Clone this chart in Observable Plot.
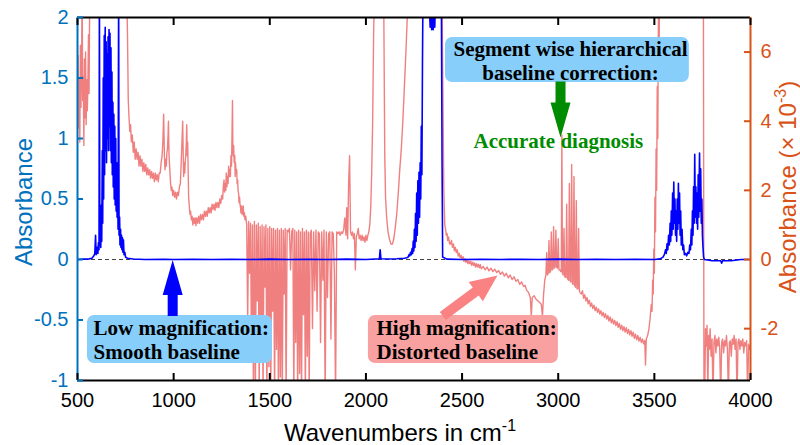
<!DOCTYPE html>
<html><head><meta charset="utf-8">
<script src="https://cdn.jsdelivr.net/npm/d3@7"></script>
<script src="https://cdn.jsdelivr.net/npm/@observablehq/plot@0.6"></script>
<style>body{margin:0;background:#fff} svg{display:block}</style>
</head><body><div id="chart"></div>
<script>
// ---------- data ----------
const RATIO = 3.5; // right-axis units (x10^-3) per left-axis unit
const xTicks = [500, 1000, 1500, 2000, 2500, 3000, 3500, 4000];
const leftTicks = [-1, -0.5, 0, 0.5, 1, 1.5, 2];
const rightTicks = [-2, 0, 2, 4, 6];
const zeroLine = [0];

// low magnification spectrum: [wavenumber, absorbance]
const lowMag = [
[500,0],[530,0.003],[560,0.005],[575,0.01],[585,0.03],[590,0.05],[594,0.2],[597,0.04],[600,0.06],[603,0.1],[606,0.05],[609,0.14],[612,0.08],[614,2.3],[616,0.12],[619,0.3],[621,0.1],[624,0.45],[626,0.15],[629,0.9],[631,0.3],[634,1.5],[636,0.5],[639,1.85],[641,0.7],[644,1.92],[646,0.9],[649,1.8],[651,0.8],[654,1.7],[656,1.0],[659,1.84],[661,0.9],[664,1.9],[666,1.1],[669,1.87],[671,0.9],[674,1.75],[676,0.8],[679,1.55],[681,0.7],[684,1.3],[686,0.6],[689,1.2],[691,0.5],[694,1.1],[696,0.45],[699,1.0],[701,0.4],[704,0.8],[706,0.35],[709,0.6],[711,0.25],[714,2.3],[716,0.2],[719,0.35],[721,0.12],[724,0.25],[726,0.1],[729,0.2],[731,0.08],[734,0.18],[736,0.06],[739,0.16],[742,0.04],[746,0.06],[750,0.02],[760,0.01],[790,0.004],[850,0],[950,0.002],[1000,0],[1100,0.002],[1200,0],[1300,0.002],[1400,0],[1500,0.003],[1600,0],[1700,0.002],[1800,0],[1900,0.003],[2000,0],[2050,0.004],[2070,0.005],[2074,0.08],[2078,0.006],[2120,0.004],[2160,0.006],[2200,0.01],[2212,0.015],[2220,0.02],[2224,0.04],[2228,0.03],[2232,0.06],[2236,0.04],[2240,0.09],[2243,0.05],[2246,0.15],[2249,0.07],[2252,0.25],[2255,0.1],[2258,0.38],[2261,0.15],[2264,0.55],[2267,0.2],[2270,0.65],[2273,0.3],[2276,0.72],[2279,0.35],[2282,0.8],[2285,0.5],[2288,1.1],[2291,0.7],[2294,1.6],[2297,2.3],[2320,2.3],[2330,2.1],[2334,1.92],[2338,2.05],[2342,1.9],[2346,2.1],[2350,1.9],[2354,2.05],[2358,1.92],[2362,2.2],[2370,2.3],[2392,2.3],[2396,0.8],[2399,0.02],[2420,0.003],[2500,0],[2600,0.002],[2700,0],[2800,0.002],[2900,0],[3000,0.003],[3100,0],[3200,0.002],[3300,0],[3400,0.002],[3500,0],[3530,0.005],
[3545,0.02],[3552,0.04],[3558,0.08],[3562,0.05],[3566,0.13],[3570,0.08],[3574,0.2],[3578,0.12],[3582,0.3],[3585,0.15],[3588,0.4],[3591,0.2],[3595,0.55],[3598,0.25],[3601,0.64],[3604,0.3],[3607,0.5],[3610,0.2],[3613,0.4],[3616,0.15],[3619,0.5],[3622,0.25],[3625,0.63],[3628,0.3],[3631,0.55],[3634,0.2],[3637,0.4],[3640,0.12],[3644,0.25],[3648,0.08],[3652,0.12],[3656,0.04],[3662,0.05],[3668,0.03],[3674,0.06],[3680,0.05],[3684,0.12],[3688,0.08],[3692,0.25],[3695,0.12],[3698,0.4],[3701,0.2],[3704,0.6],[3707,0.3],[3710,0.87],[3713,0.35],[3716,0.6],[3719,0.3],[3722,0.55],[3725,0.25],[3728,0.7],[3731,0.35],[3735,0.88],[3738,0.4],[3741,0.75],[3744,0.3],[3747,0.5],[3750,0.2],[3753,0.1],[3756,0.02],[3760,0],[3800,-0.01],[3845,-0.01],[3850,-0.03],[3855,-0.01],[3900,-0.01],[3950,0],[4000,0]
];

// high magnification spectrum: [wavenumber, absorbance x 10^-3]
const highMag = [
[500,4.8],[503,5.9],[506,3.8],[509,5.2],[512,3.4],[515,6.2],[518,4.4],[521,5.5],[524,8],[527,4.6],[530,5.3],[533,3.3],[536,5.8],[539,4.1],[542,6.0],[545,3.9],[548,5.2],[551,4.3],[554,5.0],[557,6.5],[560,4.8],[564,8],[755,8],
[760,6.5],[764,4.6],[768,4.1],[772,3.7],[776,3.9],[780,3.4],[785,3.6],[790,3.1],[795,3.4],[800,2.9],[805,3.2],[810,2.9],[815,3.1],[820,2.7],[825,3.0],[830,2.7],[835,2.9],[840,2.55],[845,2.8],[850,2.55],[855,2.75],[860,2.45],[865,2.65],[870,2.45],[875,2.6],[880,2.35],[885,2.55],[890,2.35],[895,2.5],[900,2.25],[905,2.5],[910,2.3],[915,2.45],[920,2.25],[925,2.5],[930,2.5],[935,2.8],[940,3.0],[944,3.4],[948,4.2],[952,3.0],[955,2.6],[958,2.9],[962,2.7],[965,3.1],[968,3.2],[971,3.6],[973,4.0],[976,3.0],[980,2.6],[984,2.2],[988,2.0],[991,2.1],[995,1.85],[1000,2.0],[1005,1.8],[1010,1.95],[1015,1.75],[1020,1.95],[1025,1.85],[1030,2.1],[1035,2.2],[1038,2.6],[1042,3.2],[1047,4.0],[1050,3.0],[1052,2.4],[1055,2.8],[1058,2.5],[1061,2.9],[1063,3.0],[1066,3.4],[1068,3.9],[1071,3.0],[1073,3.4],[1076,2.4],[1078,1.8],[1082,1.5],[1085,1.3],[1088,1.4],[1092,1.15],[1096,1.25],[1100,1.0],[1104,1.2],[1108,1.05],[1112,1.2],[1116,0.98],[1120,1.2],[1125,1.05],[1130,1.25],[1135,1.05],[1140,1.3],[1145,1.15],[1150,1.3],[1155,1.15],[1160,1.4],[1165,1.25],[1170,1.4],[1175,1.25],[1180,1.5],[1185,1.35],[1190,1.5],[1195,1.35],[1200,1.6],[1205,1.45],[1210,1.6],[1215,1.42],[1220,1.65],[1225,1.5],[1230,1.65],[1235,1.5],[1240,1.75],[1245,1.62],[1250,1.85],[1255,1.75],[1258,2.1],[1262,2.3],[1265,1.95],[1268,2.2],[1271,2.0],[1274,2.5],[1277,2.1],[1280,2.4],[1283,2.2],[1286,2.7],[1289,2.4],[1292,2.6],[1295,2.4],[1298,3.0],[1301,2.7],[1303,3.4],[1306,4.6],[1308,3.2],[1310,3.0],[1312,3.3],[1315,2.8],[1318,3.0],[1320,2.4],[1322,2.8],[1325,2.5],[1328,2.6],[1330,2.2],[1333,2.3],[1335,2.0],[1338,1.9],[1340,1.65],[1343,1.8],[1345,1.6],[1348,1.5],[1350,1.35],[1353,1.55],[1356,1.3],[1359,1.45],[1362,1.55],[1365,1.25],[1368,1.35],[1371,1.15],
[1375,1.25],[1380,1.0],[1385,-1.8],[1390,1.1],[1395,-0.4],[1400,1.05],[1405,-2.9],[1410,1.0],[1415,-4],[1420,1.1],[1425,-4],[1430,1.0],[1435,-1.2],[1440,1.05],[1445,-4],[1450,0.95],[1455,-2.2],[1460,1.0],[1465,-4],[1470,0.95],[1475,-0.8],[1480,1.0],[1485,-4],[1490,0.9],[1495,-3.1],[1500,0.95],[1505,-4],[1510,0.9],[1515,-1.5],[1520,0.9],[1525,-4],[1530,0.85],[1535,-2.6],[1540,0.9],[1545,-4],[1550,0.85],[1555,-3.4],[1560,0.9],[1565,-4],[1570,0.85],[1575,-1.0],[1580,0.9],[1585,-4],[1590,0.85],[1596,0.8],[1602,0.9],[1608,-0.3],[1614,0.8],
[1620,0.9],[1625,-4],[1630,0.85],[1635,-2.4],[1640,0.8],[1645,-4],[1650,0.85],[1655,-3.3],[1660,0.8],[1665,-4],[1670,0.9],[1675,-1.6],[1680,0.8],[1685,-4],[1690,0.85],[1695,-2.8],[1700,0.8],[1705,-4],[1710,0.75],[1716,0.85],[1722,-2.0],[1728,0.8],[1734,-0.9],[1740,0.85],[1746,-1.5],[1752,0.8],[1758,0.75],[1764,-2.4],[1770,0.8],[1776,-0.6],[1782,0.85],[1788,-4],[1794,0.8],[1800,-1.1],[1806,0.75],[1812,0.8],[1818,-2.3],[1824,0.8],[1830,0.75],[1836,-0.4],[1842,-4],[1848,0.8],[1854,0.75],[1860,0.8],[1866,0.7],[1872,0.8],[1878,0.75],[1884,0.85],[1890,1.2],[1896,0.7],[1900,1.5],[1905,0.6],[1910,2.2],[1915,3.0],[1920,0.8],
[1925,0.7],[1930,0.8],[1935,0.6],[1940,0.75],[1945,-0.3],[1950,0.65],[1955,0.75],[1960,0.9],[1965,0.6],[1970,0.7],[1975,0.55],[1980,0.7],[1985,0.55],[1990,0.65],[1995,0.5],[2000,0.7],[2005,0.55],[2010,0.7],[2015,0.8],[2020,1.0],[2025,1.5],[2030,2.5],[2035,4.0],[2040,6.5],[2045,8],[2092,8],[2098,3.0],[2102,1.8],[2108,1.2],[2115,0.8],[2122,0.6],[2130,0.45],[2138,0.45],[2145,0.6],[2152,0.9],[2160,1.3],[2168,1.9],[2176,2.6],[2184,3.2],[2192,4.0],[2200,5.0],[2208,6.0],[2215,7.0],[2222,8],[2395,8],[2400,5.0],[2405,2.0],[2410,1.0],[2415,0.85],[2418,0.7],[2422,0.75],[2425,0.55],[2430,0.65],[2435,0.45],
[2440,0.45],[2445,0.55],[2450,0.35],[2455,0.45],[2460,0.25],[2465,0.35],[2470,0.2],[2475,0.28],[2480,0.1],[2485,0.18],[2490,0.05],[2495,0.12],[2500,0.0],[2505,0.08],[2510,-0.05],[2515,0.02],[2520,-0.08],[2525,0.0],[2530,-0.12],[2535,-0.04],[2540,-0.12],[2545,-0.05],[2550,-0.17],[2555,-0.08],[2560,-0.17],[2565,-0.1],[2570,-0.22],[2575,-0.12],[2580,-0.22],[2585,-0.14],[2590,-0.24],[2595,-0.15],[2600,-0.27],[2610,-0.2],[2620,-0.3],[2630,-0.22],[2640,-0.33],[2650,-0.25],[2660,-0.35],[2670,-0.28],[2680,-0.38],[2690,-0.32],[2700,-0.43],[2710,-0.36],[2720,-0.48],[2730,-0.4],[2740,-0.53],[2750,-0.45],[2760,-0.58],[2770,-0.5],[2780,-0.63],[2790,-0.58],[2800,-0.72],[2810,-0.65],[2820,-0.78],[2828,-0.75],[2835,-0.88],[2845,-0.95],[2855,-1.1],[2860,-1.65],[2865,-1.1],[2875,-1.05],[2885,-1.15],[2895,-1.2],[2905,-1.25],[2912,-1.3],[2918,-1.65],[2924,-1.0],[2930,-0.6],
[2936,-0.45],[2940,0.2],[2944,-0.45],[2948,-0.4],[2952,0.55],[2956,-0.38],[2960,-0.35],[2964,0.8],[2968,-0.3],[2972,-0.28],[2976,0.95],[2980,-0.25],[2984,-0.22],[2988,0.85],[2992,-0.22],[2996,-0.25],[3000,0.6],[3004,-0.3],[3009,-0.3],[3013,-0.35],[3016,-0.35],[3019,3.6],[3022,-0.4],[3026,-0.45],[3030,0.9],[3034,-0.5],[3040,-0.52],[3044,1.6],[3048,-0.55],[3054,-0.6],[3058,2.2],[3062,-0.62],[3066,-0.65],[3070,2.75],[3074,-0.7],[3078,-0.72],[3082,2.4],[3086,-0.75],[3090,-0.8],[3094,1.7],[3098,-0.85],[3102,-0.85],[3106,0.9],[3110,-0.9],[3113,-0.95],
[3120,-1.0],[3126,-0.9],[3132,-1.12],[3138,-1.02],[3144,-1.2],[3150,-1.1],[3156,-1.28],[3162,-1.18],[3168,-1.36],[3174,-1.26],[3180,-1.42],[3186,-1.32],[3192,-1.48],[3198,-1.38],[3204,-1.53],[3210,-1.43],[3216,-1.58],[3222,-1.48],[3228,-1.63],[3234,-1.53],[3240,-1.68],[3246,-1.57],[3252,-1.72],[3258,-1.62],[3264,-1.78],[3270,-1.66],[3276,-1.83],[3282,-1.72],[3288,-1.87],[3294,-1.76],[3300,-1.91],[3306,-1.8],[3312,-1.96],[3318,-1.85],[3324,-2.02],[3330,-1.9],[3336,-2.06],[3342,-1.94],[3348,-2.1],[3354,-1.97],[3360,-2.14],[3366,-2.02],[3372,-2.18],[3378,-2.06],[3384,-2.22],[3390,-2.1],[3396,-2.28],[3402,-2.16],[3408,-2.32],[3414,-2.2],[3420,-2.36],[3426,-2.25],[3432,-2.4],[3438,-2.3],[3444,-2.44],[3450,-2.34],[3454,-3.05],[3458,-2.3],[3465,-2.2],[3472,-2.0],[3478,-1.7],[3484,-1.3],[3488,-1.5],[3491,-0.6],[3494,-1.0],[3497,0.3],[3500,-0.4],[3503,1.8],[3506,0.8],[3509,3.2],[3512,2.0],[3515,5.0],[3518,3.5],[3521,7.0],[3524,5.5],[3527,8],[3755,8],
[3758,-4],[3762,-4],[3766,-2.0],[3770,-2.5],[3774,-1.9],[3778,-4],[3782,-2.2],[3786,-2.6],[3790,-2.0],[3795,-2.8],[3800,-2.3],[3805,-4],[3810,-2.4],[3815,-2.2],[3820,-2.7],[3825,-2.3],[3830,-2.5],[3835,-2.25],[3840,-2.6],[3845,-4],[3850,-2.4],[3855,-2.3],[3860,-2.7],[3865,-2.35],[3870,-2.5],[3875,-2.2],[3880,-2.6],[3885,-4],[3890,-2.4],[3895,-2.35],[3900,-2.8],[3905,-2.3],[3910,-2.45],[3915,-2.2],[3920,-2.6],[3925,-2.3],[3930,-4],[3935,-2.4],[3940,-2.3],[3945,-2.6],[3950,-2.35],[3955,-2.5],[3960,-2.3],[3965,-2.7],[3970,-2.4],[3975,-2.5],[3980,-2.35],[3985,-4],[3990,-2.45],[3995,-2.6],[4000,-2.5]
];

// annotations (in data coordinates of the left axis)
const boxes = [
  {x1: 552, x2: 1514, y1: -0.463, y2: -0.86, fill: "#87CEFA"},
  {x1: 2013, x2: 3001, y1: -0.463, y2: -0.86, fill: "#F9A0A0"},
  {x1: 2414, x2: 3682, y1: 1.835, y2: 1.463, fill: "#87CEFA"}
];
const boxTextsLeft = [
  {x: 583, y: -0.661, text: "Low magnification:\nSmooth baseline"},
  {x: 2055, y: -0.661, text: "High magnification:\nDistorted baseline"}
];
const boxTextsCenter = [
  {x: 3064, y: 1.649, text: "Segment wise hierarchical\nbaseline correction:"}
];
const greenText = [{x: 3001, y: 0.975, text: "Accurate diagnosis"}];
const arrows = [
  {x: 995, y: -0.005, rotate: 0, color: "#0000FF"},
  {x: 3012, y: 1.008, rotate: 180, color: "#008C00"}
];
const pinkArrow = [{x: 2684, y: -0.132, rotate: 53.5, color: "#FA8282"}];

// ---------- chart ----------
function blockArrow(shaft, headW, headL) {
  return {draw(ctx, l) {
    const s = shaft / 2, h = headW / 2, b = l - headL;
    ctx.moveTo(-s, 0); ctx.lineTo(-s, -b); ctx.lineTo(-h, -b); ctx.lineTo(0, -l);
    ctx.lineTo(h, -b); ctx.lineTo(s, -b); ctx.lineTo(s, 0); ctx.closePath();
  }};
}
const fmt = d => String(Math.round(d * 100) / 100);
const sans = "'Liberation Sans', Arial, Helvetica, sans-serif";
const serif = "'Liberation Serif', 'Times New Roman', serif";
const BLUEAX = "#0072BD", ORANGE = "#D95319";
const boxFont = {fontFamily: serif, fontWeight: "bold", fontSize: 21, lineHeight: 1.15, fill: "black", lineAnchor: "middle"};

const chart = Plot.plot({
  width: 800, height: 445,
  marginLeft: 77, marginRight: 50, marginTop: 17, marginBottom: 65,
  style: {fontFamily: sans, fontSize: "20px", background: "white", overflow: "visible"},
  x: {domain: [500, 4000]},
  y: {domain: [-1, 2]},
  marks: [
    Plot.ruleY(zeroLine, {stroke: "#444", strokeWidth: 1, strokeDasharray: "4,3"}),
    Plot.line(highMag, {x: d => d[0], y: d => d[1] / RATIO, stroke: "#F08080", strokeWidth: 1.4, clip: true}),
    Plot.line(lowMag, {x: d => d[0], y: d => d[1], stroke: "#0000FF", strokeWidth: 1.6, clip: true}),
    // frame
    Plot.ruleY([-1, 2], {stroke: "black", strokeWidth: 2}),
    Plot.ruleX([500], {stroke: BLUEAX, strokeWidth: 2}),
    Plot.ruleX([4000], {stroke: ORANGE, strokeWidth: 2}),
    // axes
    Plot.axisX({anchor: "bottom", ticks: xTicks, tickSize: 0, tickPadding: 12, tickFormat: fmt, fill: "black", fontSize: 20, label: null}),
    Plot.axisX({anchor: "bottom", ticks: xTicks, tickSize: -7, tickFormat: () => "", stroke: "black", strokeWidth: 2, label: null}),
    Plot.axisX({anchor: "top", ticks: xTicks, tickSize: -7, tickFormat: () => "", stroke: "black", strokeWidth: 2, label: null}),
    Plot.axisY({anchor: "left", ticks: leftTicks, tickSize: 0, tickPadding: 9, tickFormat: fmt, fill: BLUEAX, fontSize: 20, label: null}),
    Plot.axisY({anchor: "left", ticks: leftTicks, tickSize: -6, tickFormat: () => "", stroke: BLUEAX, strokeWidth: 2, label: null}),
    Plot.axisY({anchor: "right", ticks: rightTicks.map(v => v / RATIO), tickSize: 0, tickPadding: 10, tickFormat: v => fmt(v * RATIO), fill: ORANGE, fontSize: 20, label: null}),
    Plot.axisY({anchor: "right", ticks: rightTicks.map(v => v / RATIO), tickSize: -7, tickFormat: () => "", stroke: ORANGE, strokeWidth: 2, label: null}),
    // annotations
    Plot.rect(boxes, {x1: "x1", x2: "x2", y1: "y1", y2: "y2", fill: "fill", rx: 7}),
    Plot.text(boxTextsLeft, {x: "x", y: "y", text: "text", textAnchor: "start", ...boxFont}),
    Plot.text(boxTextsCenter, {x: "x", y: "y", text: "text", textAnchor: "middle", ...boxFont}),
    Plot.vector(arrows, {x: "x", y: "y", rotate: "rotate", length: 56, anchor: "end", shape: blockArrow(10, 20, 35), fill: "color", stroke: "none"}),
    Plot.vector(pinkArrow, {x: "x", y: "y", rotate: "rotate", length: 68, anchor: "end", shape: blockArrow(10, 24, 27), fill: "color", stroke: "none"}),
    Plot.text(greenText, {x: "x", y: "y", text: "text", fontFamily: serif, fontWeight: "bold", fontSize: 21, fill: "#008C00"})
  ]
});

// axis titles with superscripts
const svg = d3.select(chart);
const xl = svg.append("text").attr("x", 400).attr("y", 441).attr("text-anchor", "middle")
  .attr("font-family", sans).attr("font-size", 24).attr("fill", "black");
xl.append("tspan").text("Wavenumbers in cm");
xl.append("tspan").attr("font-size", 16).attr("dy", -10).text("-1");

svg.append("text").attr("transform", "translate(32,202) rotate(-90)").attr("text-anchor", "middle")
  .attr("font-family", sans).attr("font-size", 24).attr("fill", BLUEAX).text("Absorbance");

const yr = svg.append("text").attr("transform", "translate(796,187) rotate(-90)").attr("text-anchor", "middle")
  .attr("font-family", sans).attr("font-size", 24).attr("fill", ORANGE);
yr.append("tspan").text("Absorbance (\u00D7 10");
yr.append("tspan").attr("font-size", 16).attr("dy", -10).text("-3");
yr.append("tspan").attr("dy", 10).text(")");

document.getElementById("chart").append(chart);
</script>
</body></html>
